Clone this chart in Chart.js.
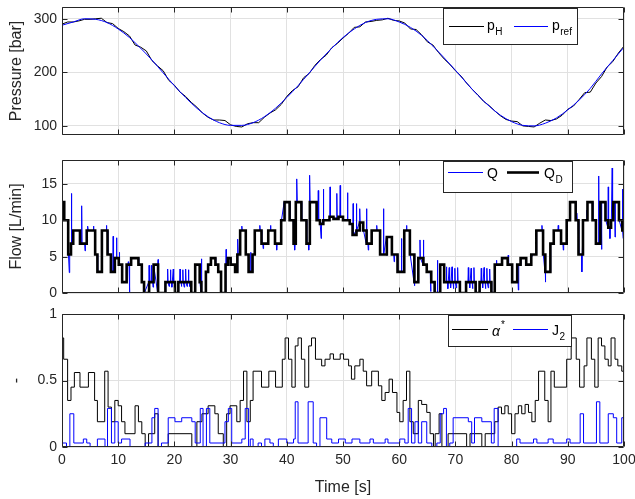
<!DOCTYPE html>
<html>
<head>
<meta charset="utf-8">
<script src="https://cdn.jsdelivr.net/npm/chart.js@4.4.1/dist/chart.umd.min.js"></script>
<style>
  html, body { margin: 0; padding: 0; background: #ffffff; }
  #wrap { position: relative; width: 635px; height: 499px; overflow: hidden; }
  canvas { position: absolute; left: 0; }
</style>
</head>
<body>
<div id="wrap">
  <canvas id="cPressure" width="635" height="140" style="top:0px"></canvas>
  <canvas id="cFlow" width="635" height="150" style="top:150px"></canvas>
  <canvas id="cRatio" width="635" height="199" style="top:300px"></canvas>
</div>
<script>
// ---- axis ticks ----
const timeTicks = [0, 10, 20, 30, 40, 50, 60, 70, 80, 90, 100];
const pressureTicks = [100, 200, 300];
const flowTicks = [0, 5, 10, 15];
const ratioTicks = [0, 0.5, 1];

// ---- pressure [bar] ----
// reference pressure, sampled every 2 s
const pRefStep = 2;
const pRef = [288, 294, 300, 299, 293, 281, 265, 245, 223, 199, 175, 153, 133, 117, 106, 101, 101,
  106, 117, 133, 153, 175, 199, 223, 245, 265, 281, 293, 299, 300, 294, 284, 269, 249, 227, 204,
  180, 157, 137, 120, 108, 101, 100, 105, 115, 130, 148, 170, 197, 222, 247];
// measured high-side pressure, sampled every 1 s
const pHStep = 1;
const pH = [290, 294, 294, 296, 299, 299, 300, 301, 293, 291,
  282, 276, 268, 251, 247, 240, 222, 212, 203, 185,
  176, 163, 155, 144, 135, 124, 116, 111, 111, 110,
  102, 99, 98, 104, 106, 106, 116, 124, 130, 140,
  155, 166, 173, 190, 198, 213, 224, 232, 246, 254,
  264, 273, 284, 285, 294, 295, 297, 298, 301, 297,
  296, 292, 281, 280, 270, 257, 251, 237, 225, 215,
  203, 193, 180, 168, 158, 146, 138, 128, 119, 112,
  109, 108, 100, 99, 98, 105, 111, 110, 113, 120,
  131, 137, 149, 162, 163, 180, 192, 210, 220, 236, 249];

// ---- flow [L/min] ----
// demanded flow Q_D: switching instants [s] and the level held from each instant
const qdTime = [0, 0.4, 1.1, 1.6, 2.0, 3.2, 4.4, 5.9, 6.3, 7.1, 8.1, 8.7, 9.4, 10.1, 10.7, 11.5, 12.3,
  13.6, 14.2, 14.6, 15.5, 16.3, 17.1, 18.4, 20.1, 20.7, 23.0, 23.7, 24.5, 24.8, 25.6, 26.0, 26.5,
  27.3, 27.8, 28.3, 29.1, 29.5, 30.0, 30.8, 31.2, 31.7, 32.7, 33.2, 33.9, 34.3, 35.5, 36.7, 37.9,
  39.0, 39.6, 40.5, 41.2, 41.6, 42.6, 43.5, 44.1, 45.3, 45.9, 46.5, 47.6, 48.3, 49.2, 50.0, 51.2,
  51.7, 52.4, 53.0, 53.6, 54.2, 55.1, 56.6, 57.8, 58.7, 59.7, 60.9, 61.9, 62.7, 63.4, 64.3, 64.9,
  65.7, 66.3, 67.3, 68.0, 70.8, 71.9, 73.6, 74.3, 76.4, 77.0, 78.3, 79.3, 80.1, 81.0, 81.6, 82.6,
  83.5, 84.4, 85.6, 86.0, 86.9, 87.5, 88.8, 89.8, 90.4, 91.4, 91.9, 92.7, 93.5, 94.4, 95.0, 95.8,
  96.7, 97.2, 97.7, 98.1, 99.1, 99.7];
const qdFlow = [12.5, 10, 5.3, 6.8, 8.6, 6.8, 8.6, 5.3, 2.9, 8.6, 5.3, 2.9, 4.8, 3.9, 1.5, 3.9, 4.8,
  3.9, 1.5, 0, 1.5, 3.9, 0, 1.5, 0, 1.5, 0, 3.9, 1.5, 0, 2.9, 3.9, 4.8,
  3.9, 2.9, 0, 3.9, 4.8, 3.9, 2.9, 5.3, 8.6, 5.3, 2.9, 5.3, 8.6, 6.8, 8.6, 6.8,
  10, 12.5, 10, 6.8, 12.5, 10, 6.8, 12.5, 10, 9.5, 10, 10.5, 10.2, 10.5, 10, 9.5,
  8.0, 8.6, 9.7, 8.6, 6.8, 8.6, 5.3, 7.7, 5.3, 2.9, 8.6, 5.3, 1.5, 4.8, 3.9, 2.9,
  1.5, 0, 3.9, 1.5, 0, 1.5, 0, 1.5, 0, 3.9, 4.8, 3.9, 1.5, 3.9, 4.8, 3.9,
  5.3, 8.6, 5.3, 2.9, 6.8, 8.6, 6.8, 10, 12.5, 10, 5.3, 10, 12.5, 10, 6.8, 12.5,
  10, 9.0, 10, 12.5, 10, 8.6];
// measured flow Q: peaks of the short transients riding on Q_D [s, L/min]
const spikeTime = [1.3, 1.7, 3.5, 4.1, 4.6, 5.6, 7.2, 7.9, 9.1, 9.7, 10.2, 11.8, 12.0, 15.5, 15.9, 16.2,
  17.1, 18.8, 19.05, 19.3, 19.55, 19.8, 21.0, 21.25, 21.5, 21.75, 22.0, 22.25, 22.5, 22.75, 24.8,
  29.2, 31.3, 32.0, 33.6, 35.2, 35.8, 37.1, 38.2, 39.6, 41.4, 41.8, 43.9, 44.1, 45.6, 46.1, 46.5,
  47.7, 48.9, 49.5, 50.8, 51.8, 52.4, 53.0, 54.2, 54.5, 56.0, 57.2, 57.8, 59.1, 60.4, 61.3, 62.7,
  63.7, 64.3, 65.6, 66.8, 68.4, 68.65, 68.9, 69.15, 69.4, 69.65, 69.9, 70.15, 70.4, 72.3, 72.55,
  72.8, 73.05, 73.3, 74.6, 74.85, 75.1, 75.35, 75.6, 75.85, 76.1, 77.3, 79.4, 81.2, 83.6, 85.4,
  86.0, 88.3, 89.2, 91.6, 92.5, 93.4, 95.1, 95.5, 96.0, 97.2, 97.5, 97.9, 98.4, 99.7, 99.85];
const spikeFlow = [2.8, 13.7, 12.0, 5.8, 9.2, 9.2, 7.8, 9.3, 7.8, 7.6, 5.6, 4.3, 0.1, 3.8, 3.8, 0.8,
  4.6, 3.3, 0.9, 3.2, 0.8, 3.3, 3.3, 0.9, 3.2, 0.8, 3.3, 0.9, 3.2, 0.9, 4.7,
  6.0, 7.4, 9.2, 5.6, 9.3, 6.1, 9.3, 5.9, 11.5, 5.9, 15.7, 5.9, 16.2, 14.1, 7.5, 14.3,
  14.6, 13.7, 14.8, 13.8, 12.3, 12.3, 11.6, 11.6, 5.9, 9.3, 11.6, 5.2, 4.3, 7.5, 9.3, 1.0,
  7.3, 7.3, 0.2, 4.5, 3.6, 0.6, 3.5, 0.7, 3.6, 0.6, 3.4, 0.7, 3.5, 3.5, 0.7,
  3.4, 0.6, 3.5, 3.4, 0.7, 3.5, 0.6, 3.4, 0.7, 3.3, 4.5, 5.2, 0.4, 5.0, 9.3,
  1.5, 9.3, 5.9, 11.0, 2.9, 11.4, 6.6, 16.1, 6.0, 14.6, 7.5, 17.2, 7.7, 14.3, 7.5];

// ---- alpha* and J2 [-] ----
const alphaTime = [0, 0.3, 1.0, 1.6, 2.2, 3.2, 4.7, 5.8, 6.3, 7.6, 8.2, 8.8, 9.4, 10.0, 10.6, 11.2, 13.0,
  13.6, 14.2, 14.8, 15.4, 16.5, 17.1, 18.9, 23.1, 24.0, 24.9, 26.0, 27.2, 27.8, 28.7, 29.3, 29.9,
  31.1, 31.7, 32.3, 32.9, 33.5, 34.0, 35.5, 36.8, 38.0, 39.2, 39.7, 40.3, 40.9, 41.5, 42.0, 42.6,
  43.2, 43.9, 44.4, 45.1, 46.2, 46.8, 47.7, 48.3, 49.5, 50.1, 51.0, 51.5, 52.1, 53.0, 53.6, 54.2,
  55.1, 56.3, 56.9, 57.5, 58.2, 58.8, 59.6, 60.1, 60.7, 61.3, 61.9, 62.5, 63.4, 64.0, 64.9, 65.5,
  66.1, 66.4, 67.1, 67.6, 68.7, 72.0, 72.6, 74.7, 75.3, 77.0, 77.6, 78.2, 78.8, 79.4, 80.0, 80.6,
  81.2, 81.8, 82.4, 83.0, 83.6, 84.2, 84.8, 85.9, 86.5, 87.0, 87.6, 89.8, 90.6, 91.5, 92.1, 92.9,
  93.4, 94.2, 94.8, 95.4, 96.0, 96.6, 97.2, 97.7, 98.4, 98.9, 99.6];
const alphaVal = [0.82, 0.66, 0.35, 0.45, 0.56, 0.45, 0.56, 0.35, 0.19, 0.57, 0.30, 0.19, 0.35, 0.31, 0.19, 0.10, 0.31,
  0.19, 0.10, 0, 0.10, 0.25, 0, 0.10, 0, 0.19, 0.25, 0.31, 0.25, 0.10, 0, 0.25, 0.31,
  0.19, 0.35, 0.57, 0.19, 0.35, 0.57, 0.45, 0.57, 0.45, 0.66, 0.82, 0.66, 0.45, 0.76, 0.82, 0.66,
  0.45, 0.76, 0.82, 0.66, 0.61, 0.66, 0.70, 0.66, 0.70, 0.66, 0.61, 0.51, 0.61, 0.66, 0.57, 0.46,
  0.57, 0.46, 0.35, 0.41, 0.51, 0.41, 0.26, 0.19, 0.35, 0.57, 0.19, 0.10, 0.35, 0.32, 0.26, 0.10,
  0, 0.10, 0.25, 0, 0.10, 0, 0.10, 0, 0.10, 0.19, 0.30, 0.25, 0.31, 0.25, 0.10, 0.25,
  0.31, 0.25, 0.32, 0.26, 0.19, 0.35, 0.57, 0.35, 0.19, 0.57, 0.45, 0.66, 0.82, 0.66, 0.45, 0.61,
  0.82, 0.66, 0.45, 0.82, 0.76, 0.66, 0.61, 0.82, 0.66, 0.61, 0.57];
const j2Time = [0, 0.8, 1.4, 2.1, 3.8, 4.4, 5.0, 6.3, 7.65, 8.1, 8.8, 9.4, 10.0, 10.6, 12.1, 14.8, 16.0,
  16.5, 17.1, 17.7, 18.9, 20.1, 21.3, 23.1, 23.7, 24.6, 25.1, 25.7, 26.3, 29.0, 29.6, 30.2, 32.0,
  32.6, 33.2, 33.5, 34.0, 34.9, 35.5, 36.1, 37.0, 37.6, 38.5, 40.0, 41.2, 41.5, 42.0, 43.8, 44.7,
  45.3, 45.9, 47.1, 48.0, 49.2, 50.4, 51.6, 53.0, 54.8, 55.4, 57.5, 58.0, 60.1, 61.0, 61.6, 62.2,
  62.8, 63.4, 64.0, 64.9, 65.8, 66.7, 67.3, 67.9, 68.4, 69.0, 69.6, 72.3, 72.9, 73.4, 74.7, 76.4,
  76.9, 77.6, 80.9, 81.5, 83.9, 84.5, 86.5, 87.4, 89.8, 90.4, 92.2, 92.8, 95.1, 95.7, 97.2, 98.1,
  98.7, 99.6];
const j2Val = [0.03, 0, 0.25, 0.03, 0.06, 0.03, 0, 0.06, 0, 0.29, 0.03, 0.19, 0.03, 0.06, 0, 0.03, 0.22,
  0.29, 0, 0.03, 0.22, 0.19, 0.22, 0.19, 0.03, 0.29, 0, 0.29, 0.03, 0.19, 0.29, 0.03, 0.06,
  0.29, 0, 0.06, 0, 0.03, 0, 0.06, 0.03, 0, 0.06, 0.03, 0.06, 0.34, 0.03, 0.34, 0.03,
  0, 0.22, 0.06, 0.03, 0.06, 0.03, 0.06, 0.03, 0.06, 0.03, 0.06, 0.03, 0.06, 0.03, 0.29, 0.03,
  0.19, 0.03, 0.19, 0.03, 0, 0.03, 0.25, 0.29, 0, 0.03, 0.22, 0.19, 0.03, 0.22, 0.19, 0.03,
  0.29, 0, 0.06, 0.03, 0.06, 0.03, 0.06, 0.03, 0.06, 0.03, 0.25, 0.03, 0.34, 0.03, 0.25, 0.22,
  0.03, 0.22];

// ---- styling ----
const FONT = '"Liberation Sans", Arial, Helvetica, sans-serif';
const TXT = '#262626';
const GRID = '#e1e1e1';
const BLUE = '#0000ff';
const END = 100;

// sampled series -> {x, y}
function sampled(values, step) {
  return values.map((v, i) => ({ x: i * step, y: v }));
}
// switching instants -> held levels up to the end of the record
function held(times, values) {
  const pts = times.map((t, i) => ({ x: t, y: values[i] }));
  pts.push({ x: END, y: values[values.length - 1] });
  return pts;
}
function levelAt(times, values, t) {
  let v = values[0];
  for (let i = 0; i < times.length && times[i] <= t; i++) v = values[i];
  return v;
}
// measured flow: follows the demanded staircase, plus its transient peaks
function measuredFlow() {
  const pts = [];
  qdTime.forEach((t, i) => {
    if (i === 0) { pts.push({ x: t, y: qdFlow[0] }); return; }
    pts.push({ x: t - 0.05, y: qdFlow[i - 1] });
    pts.push({ x: t + 0.05, y: qdFlow[i] });
  });
  pts.push({ x: END, y: qdFlow[qdFlow.length - 1] });
  spikeTime.forEach((t, i) => {
    const base = levelAt(qdTime, qdFlow, t);
    pts.push({ x: t - 0.07, y: base }, { x: t, y: spikeFlow[i] }, { x: t + 0.07, y: base });
  });
  return pts.sort((a, b) => a.x - b.x);
}

// box around the axes with inward tick marks on all four sides
const framePlugin = {
  id: 'frame',
  afterDatasetsDraw(chart) {
    const { ctx, chartArea: a, scales } = chart;
    const L = Math.round(a.left) + 0.5, R = Math.round(a.right) - 0.5;
    const T = Math.round(a.top) + 0.5, B = Math.round(a.bottom) - 0.5;
    ctx.save();
    ctx.strokeStyle = TXT;
    ctx.lineWidth = 1;
    ctx.beginPath();
    ctx.rect(L, T, R - L, B - T);
    const len = 5;
    scales.x.ticks.forEach(tk => {
      const X = Math.round(scales.x.getPixelForValue(tk.value)) + 0.5;
      ctx.moveTo(X, B); ctx.lineTo(X, B - len);
      ctx.moveTo(X, T); ctx.lineTo(X, T + len);
    });
    scales.y.ticks.forEach(tk => {
      const Y = Math.round(scales.y.getPixelForValue(tk.value)) + 0.5;
      ctx.moveTo(L, Y); ctx.lineTo(L + len, Y);
      ctx.moveTo(R, Y); ctx.lineTo(R - len, Y);
    });
    ctx.stroke();
    ctx.restore();
  }
};

// boxed legend with sub/superscripted names
function legendPlugin(spec) {
  return {
    id: 'boxLegend',
    afterDraw(chart) {
      const ctx = chart.ctx;
      const [x0, y0, x1, y1] = spec.box;
      ctx.save();
      ctx.fillStyle = '#ffffff';
      ctx.fillRect(x0, y0, x1 - x0, y1 - y0);
      ctx.strokeStyle = TXT;
      ctx.lineWidth = 1;
      ctx.strokeRect(x0 + 0.5, y0 + 0.5, x1 - x0 - 1, y1 - y0 - 1);
      spec.items.forEach(it => {
        ctx.strokeStyle = it.color;
        ctx.lineWidth = it.width;
        ctx.beginPath();
        ctx.moveTo(it.x1, it.y + 0.5);
        ctx.lineTo(it.x2, it.y + 0.5);
        ctx.stroke();
        ctx.fillStyle = '#000000';
        ctx.textBaseline = 'alphabetic';
        ctx.font = (it.italic ? 'italic ' : '') + '14px ' + FONT;
        ctx.fillText(it.label, it.tx, it.y + it.base);
        const w = ctx.measureText(it.label).width;
        ctx.font = '10px ' + FONT;
        if (it.sub) ctx.fillText(it.sub, it.tx + w + 0.5, it.y + it.base + 5);
        if (it.sup) ctx.fillText(it.sup, it.tx + w + 1, it.y - 1);
      });
      ctx.restore();
    }
  };
}

function xAxis(withLabels) {
  return {
    type: 'linear', min: 0, max: 100,
    afterBuildTicks: s => { s.ticks = timeTicks.map(v => ({ value: v })); },
    afterFit: s => { s.height = withLabels ? 52 : 0; s.paddingLeft = 0; s.paddingRight = 0; },
    grid: { color: GRID, lineWidth: 1, drawTicks: false },
    border: { display: false },
    ticks: { display: withLabels, color: TXT, font: { family: FONT, size: 14 }, padding: 5, maxRotation: 0 },
    title: withLabels
      ? { display: true, text: 'Time [s]', color: TXT, font: { family: FONT, size: 16 }, padding: { top: 0, bottom: 2 } }
      : { display: false }
  };
}
function yAxis(min, max, ticks, title) {
  return {
    type: 'linear', min: min, max: max,
    afterBuildTicks: s => { s.ticks = ticks.map(v => ({ value: v })); },
    afterFit: s => { s.width = 62; s.paddingTop = 0; s.paddingBottom = 0; },
    grid: { color: GRID, lineWidth: 1, drawTicks: false },
    border: { display: false },
    ticks: { color: TXT, font: { family: FONT, size: 14 }, padding: 5, callback: v => String(v) },
    title: { display: true, text: title, color: TXT, font: { family: FONT, size: 16 }, padding: { top: 7, bottom: 0 } }
  };
}
function baseOptions(pad, xs, ys) {
  return {
    responsive: false, animation: false, devicePixelRatio: 1, events: [],
    layout: { padding: pad },
    plugins: { legend: { display: false }, tooltip: { enabled: false } },
    elements: { point: { radius: 0 }, line: { tension: 0, borderJoinStyle: 'miter' } },
    scales: { x: xs, y: ys }
  };
}

// Pressure
new Chart(document.getElementById('cPressure'), {
  type: 'line',
  data: {
    datasets: [
      { label: 'p_ref', data: sampled(pRef, pRefStep), borderColor: BLUE, borderWidth: 1, cubicInterpolationMode: 'monotone' },
      { label: 'p_H', data: sampled(pH, pHStep), borderColor: '#000000', borderWidth: 1 }
    ]
  },
  options: baseOptions({ top: 7, right: 11, bottom: 5, left: 0 }, xAxis(false), yAxis(83, 322, pressureTicks, 'Pressure [bar]')),
  plugins: [framePlugin, legendPlugin({
    box: [443, 8, 578, 45],
    items: [
      { x1: 449, x2: 484, y: 26, color: '#000000', width: 1, tx: 487, base: 4, label: 'p', sub: 'H' },
      { x1: 514, x2: 548, y: 26, color: BLUE, width: 1, tx: 552, base: 4, label: 'p', sub: 'ref' }
    ]
  })]
});

// Flow
new Chart(document.getElementById('cFlow'), {
  type: 'line',
  data: {
    datasets: [
      { label: 'Q_D', data: held(qdTime, qdFlow), borderColor: '#000000', borderWidth: 2.6, stepped: true },
      { label: 'Q', data: measuredFlow(), borderColor: BLUE, borderWidth: 1 }
    ]
  },
  options: baseOptions({ top: 10, right: 11, bottom: 7, left: 0 }, xAxis(false), yAxis(0, 18.3, flowTicks, 'Flow [L/min]')),
  plugins: [framePlugin, legendPlugin({
    box: [443, 11, 573, 43],
    items: [
      { x1: 448, x2: 483, y: 22, color: BLUE, width: 1, tx: 487, base: 6, label: 'Q' },
      { x1: 507, x2: 539, y: 22, color: '#000000', width: 2.6, tx: 544, base: 6, label: 'Q', sub: 'D' }
    ]
  })]
});

// alpha* and J2
new Chart(document.getElementById('cRatio'), {
  type: 'line',
  data: {
    datasets: [
      { label: 'J_2', data: held(j2Time, j2Val), borderColor: BLUE, borderWidth: 1, stepped: true },
      { label: 'alpha*', data: held(alphaTime, alphaVal), borderColor: '#000000', borderWidth: 1, stepped: true }
    ]
  },
  options: baseOptions({ top: 14, right: 11, bottom: 0, left: 0 }, xAxis(true), yAxis(0, 1, ratioTicks, '-')),
  plugins: [framePlugin, legendPlugin({
    box: [448, 15, 572, 47],
    items: [
      { x1: 452, x2: 488, y: 29, color: '#000000', width: 1, tx: 492, base: 7, label: 'α', sup: '*', italic: true },
      { x1: 513, x2: 548, y: 29, color: BLUE, width: 1, tx: 552, base: 6, label: 'J', sub: '2' }
    ]
  })]
});
</script>
</body>
</html>
